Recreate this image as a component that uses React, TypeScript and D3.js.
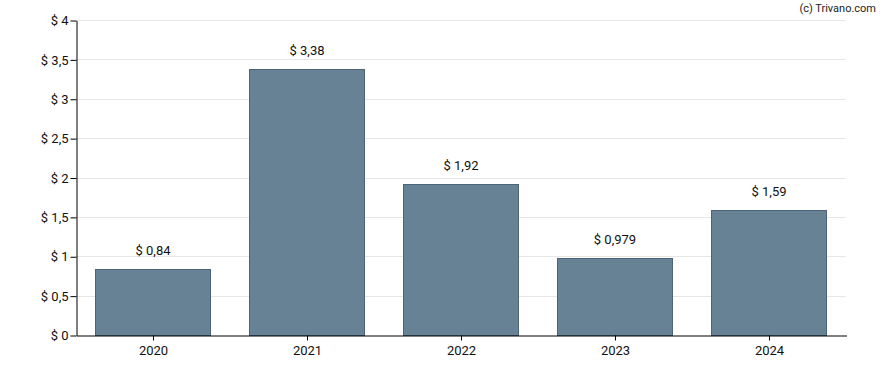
import React, { useEffect, useRef } from "react";
import * as d3 from "d3";

const years = ["2020", "2021", "2022", "2023", "2024"];
const values = [0.84, 3.38, 1.92, 0.979, 1.59];
const valueLabels = ["$ 0,84", "$ 3,38", "$ 1,92", "$ 0,979", "$ 1,59"];
const yTicks = [0, 0.5, 1, 1.5, 2, 2.5, 3, 3.5, 4];

function BarChart() {
  const ref = useRef<SVGSVGElement | null>(null);
  const width = 888;
  const height = 370;
  const marginTop = 20;
  const marginRight = 42;
  const marginBottom = 35;
  const marginLeft = 76;

  useEffect(() => {
    const x = d3
      .scaleBand()
      .domain(years)
      .range([marginLeft, width - marginRight])
      .paddingInner(0.25)
      .paddingOuter(0.125);

    const y = d3
      .scaleLinear()
      .domain([0, 4])
      .range([height - marginBottom, marginTop]);

    const svg = d3.select(ref.current);
    svg.selectAll("*").remove();
    svg
      .attr("width", width)
      .attr("height", height)
      .attr("viewBox", [0, 0, width, height])
      .attr("style", "display: block; font: 13px Roboto, sans-serif;");

    // grid lines
    svg
      .append("g")
      .selectAll("line")
      .data(yTicks.filter((d) => d > 0))
      .join("line")
      .attr("x1", marginLeft)
      .attr("x2", width - marginRight)
      .attr("y1", (d) => Math.round(y(d)) + 0.5)
      .attr("y2", (d) => Math.round(y(d)) + 0.5)
      .attr("stroke", "#e6e6e6")
      .attr("stroke-width", 1);

    // bars
    svg
      .append("g")
      .selectAll("rect")
      .data(values)
      .join("rect")
      .attr("x", (d, i) => Math.round(x(years[i]) as number) + 0.5)
      .attr("y", (d) => Math.round(y(d)) + 0.5)
      .attr("width", Math.round(x.bandwidth()) - 1)
      .attr("height", (d) => Math.round(y(0)) - Math.round(y(d)))
      .attr("fill", "#668294")
      .attr("stroke", "#4b6479")
      .attr("stroke-width", 1);

    // value labels
    svg
      .append("g")
      .attr("text-anchor", "middle")
      .selectAll("text")
      .data(values)
      .join("text")
      .attr("x", (d, i) => (x(years[i]) as number) + x.bandwidth() / 2)
      .attr("y", (d) => y(d) - 14)
      .attr("fill", "#111")
      .text((d, i) => valueLabels[i]);

    // y axis
    const yAxis = svg
      .append("g")
      .attr("transform", `translate(${marginLeft + 0.5},0.5)`)
      .call(
        d3
          .axisLeft(y)
          .tickValues(yTicks)
          .tickSize(6)
          .tickSizeOuter(0)
          .tickFormat((d) => "$ " + String(d).replace(".", ","))
      );
    yAxis.select(".domain").attr("stroke", "#000");
    yAxis.selectAll("line").attr("stroke", "#000");
    yAxis
      .selectAll("text")
      .attr("font-size", 13)
      .attr("font-family", "Roboto, sans-serif")
      .attr("fill", "#111")
      .attr("x", -8);

    // x axis
    const xAxis = svg
      .append("g")
      .attr("transform", `translate(0.5,${height - marginBottom + 0.5})`)
      .call(d3.axisBottom(x).tickSize(5).tickSizeOuter(0));
    xAxis.select(".domain").attr("stroke", "#000");
    xAxis.selectAll("line").attr("stroke", "#000");
    xAxis
      .selectAll("text")
      .attr("font-size", 13)
      .attr("font-family", "Roboto, sans-serif")
      .attr("fill", "#111")
      .attr("y", 10);

    // credit
    svg
      .append("text")
      .attr("x", width - 12)
      .attr("y", 12)
      .attr("text-anchor", "end")
      .attr("font-size", 11)
      .attr("fill", "#222")
      .text("(c) Trivano.com");
  }, []);

  return <svg ref={ref}></svg>;
}

export default function App() {
  return (
    <div style={{ position: "absolute", left: 0, top: 0 }}>
      <BarChart />
    </div>
  );
}
